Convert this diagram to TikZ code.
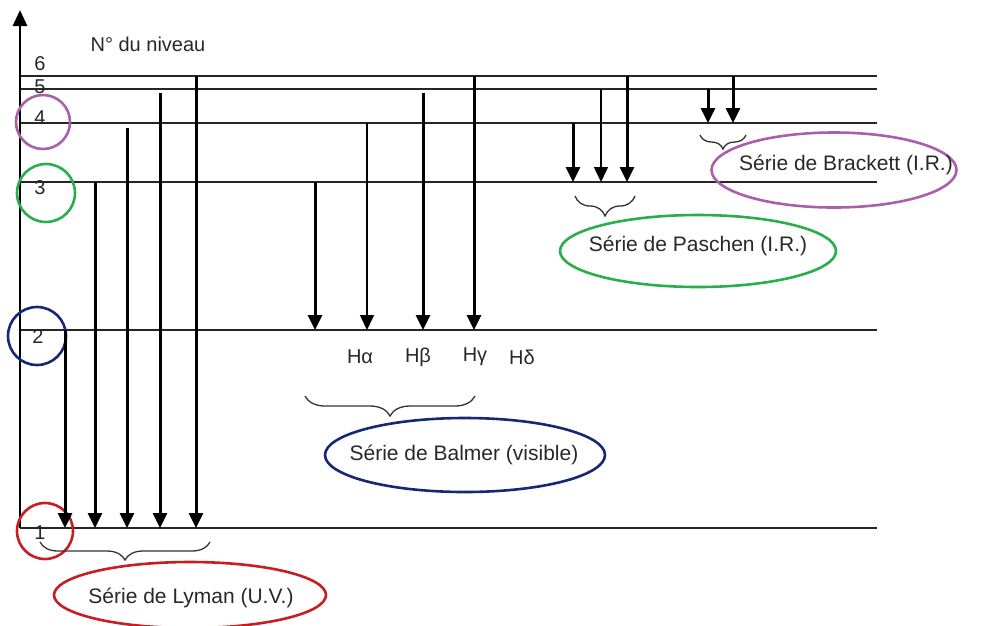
\documentclass[tikz,border=0pt]{standalone}
\usepackage{fontspec}
\setmainfont{Liberation Sans}
\usetikzlibrary{arrows.meta,shapes.geometric,decorations.pathreplacing}
\definecolor{lyred}{RGB}{200,30,35}
\definecolor{bablue}{RGB}{20,40,115}
\definecolor{pagreen}{RGB}{40,175,75}
\definecolor{brpurple}{RGB}{170,95,170}
\definecolor{txtgray}{RGB}{40,40,40}
\begin{document}
\begin{tikzpicture}[x=1pt,y=-1pt,
  level/.style={line width=1.7pt,black!85},
  trans/.style={line width=3pt,-{Triangle[width=14pt,length=15pt]}},
  thintrans/.style={line width=1.5pt,-{Triangle[width=14pt,length=15pt]}},
  lab/.style={font=\fontsize{20}{22}\selectfont,text=txtgray,inner sep=0pt},
  serlab/.style={font=\fontsize{21}{23}\selectfont,text=txtgray,inner sep=0pt},
  serie/.style={ellipse,draw,line width=2.6pt,inner sep=0pt},
  brc/.style={decorate,decoration={brace,mirror,amplitude=#1},line width=1.3pt,black!80},
  brc/.default=12pt]
\useasboundingbox (0,0) rectangle (982,625);
% levels
\foreach \n/\y in {1/528,2/330,3/182,4/123,5/89,6/76}{
  \coordinate (L\n a) at (20,\y);
  \coordinate (L\n b) at (877,\y);
  \draw[level] (L\n a) -- (L\n b);
}
% axis
\coordinate (ax0) at (20,528);
\coordinate (ax1) at (20,10);
\draw[line width=2.8pt,-{Triangle[width=14pt,length=16pt]}] (ax0) -- (ax1);
\node[lab] (titre) at (148,44) {N° du niveau};
% level numbers
\node[lab] (n6) at (40,64) {6};
\node[lab] (n5) at (40,87) {5};
\node[lab] (n4) at (40,118) {4};
\node[lab] (n3) at (40,188) {3};
\node[lab] (n2) at (38,337) {2};
\node[lab] (n1) at (40,533) {1};
% circles
\node[circle,draw=brpurple,line width=2.6pt,minimum size=54pt] (c4) at (43,122) {};
\node[circle,draw=pagreen,line width=2.6pt,minimum size=58pt] (c3) at (46,193) {};
\node[circle,draw=bablue,line width=2.6pt,minimum size=58pt] (c2) at (37,336) {};
\node[circle,draw=lyred,line width=2.6pt,minimum size=56pt] (c1) at (45,531) {};
% Lyman
\foreach \i/\x/\y in {a/65/330,b/95/182,c/127/128,d/160/93,e/196/76}{
  \coordinate (ly\i s) at (\x,\y);
  \coordinate (ly\i e) at (\x,528);
  \draw[trans] (ly\i s) -- (ly\i e);
}
% Balmer
\foreach \i/\x/\y/\st in {a/315/182/trans,b/367/123/thintrans,c/423/93/trans,d/474/76/trans}{
  \coordinate (ba\i s) at (\x,\y);
  \coordinate (ba\i e) at (\x,330);
  \draw[\st] (ba\i s) -- (ba\i e);
}
\node[lab] (Ha) at (360,357) {Hα};
\node[lab] (Hb) at (418,357) {Hβ};
\node[lab] (Hg) at (475,357) {Hγ};
\node[lab] (Hd) at (522,357) {Hδ};
% Paschen
\foreach \i/\x/\y/\st in {a/573/123/trans,b/601/89/thintrans,c/627/76/trans}{
  \coordinate (pa\i s) at (\x,\y);
  \coordinate (pa\i e) at (\x,182);
  \draw[\st] (pa\i s) -- (pa\i e);
}
% Brackett
\foreach \i/\x/\y in {a/708/89,b/733/76}{
  \coordinate (br\i s) at (\x,\y);
  \coordinate (br\i e) at (\x,123);
  \draw[trans] (br\i s) -- (br\i e);
}
% braces
\coordinate (lyB1) at (40,542); \coordinate (lyB2) at (210,542);
\draw[brc=18pt] (lyB1) -- (lyB2);
\coordinate (baB1) at (305,396); \coordinate (baB2) at (475,396);
\draw[brc=20pt] (baB1) -- (baB2);
\coordinate (paB1) at (575,196); \coordinate (paB2) at (635,196);
\draw[brc=20pt] (paB1) -- (paB2);
\coordinate (brB1) at (700,135); \coordinate (brB2) at (746,135);
\draw[brc=14pt] (brB1) -- (brB2);
% series ellipses
\node[serie,draw=lyred,minimum width=272pt,minimum height=66pt] (lyman) at (190,595) {};
\node[serlab] (lymanT) at (191,598) {Série de Lyman (U.V.)};
\node[serie,draw=bablue,minimum width=280pt,minimum height=74pt] (balmer) at (465,455) {};
\node[serlab] (balmerT) at (464,455) {Série de Balmer (visible)};
\node[serie,draw=pagreen,minimum width=276pt,minimum height=72pt] (paschen) at (698,251) {};
\node[serlab] (paschenT) at (698,246) {Série de Paschen (I.R.)};
\node[serie,draw=brpurple,minimum width=245pt,minimum height=75pt] (brackett) at (834,170) {};
\node[serlab] (brackettT) at (846,165) {Série de Brackett (I.R.)};
\end{tikzpicture}
\end{document}
